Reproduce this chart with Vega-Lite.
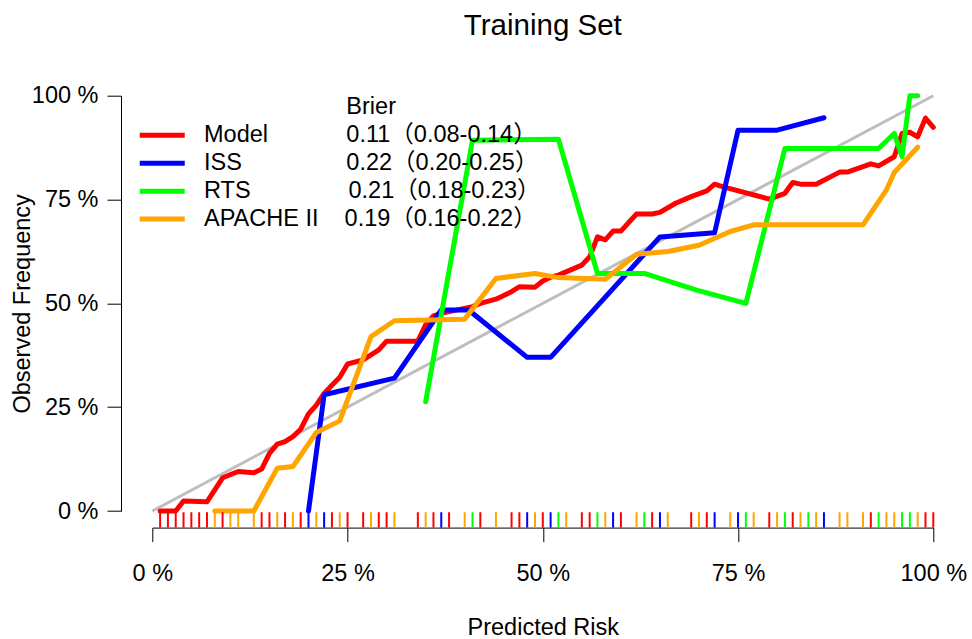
{
  "$schema": "https://vega.github.io/schema/vega-lite/v6.json",
  "width": 781,
  "height": 415.3,
  "autosize": {"type": "none"},
  "padding": {"left": 152.3, "top": 95.7, "right": 38.7, "bottom": 128},
  "background": "white",
  "config": {"view": {"stroke": null}},
  "title": {"text": "Training Set", "fontSize": 29.5, "font": "Liberation Sans", "fontWeight": "normal", "color": "black", "anchor": "middle", "frame": "group", "baseline": "alphabetic", "offset": 19},
  "datasets": {
    "curves": [
      {"series": "Model", "x": 1, "y": 0}, {"series": "Model", "x": 3, "y": 0}, {"series": "Model", "x": 4, "y": 2.4}, {"series": "Model", "x": 7, "y": 2.2},
      {"series": "Model", "x": 9, "y": 8.0}, {"series": "Model", "x": 11, "y": 9.5}, {"series": "Model", "x": 13, "y": 9.2}, {"series": "Model", "x": 14, "y": 10.1},
      {"series": "Model", "x": 15, "y": 13.9}, {"series": "Model", "x": 16, "y": 16.1}, {"series": "Model", "x": 17, "y": 16.7}, {"series": "Model", "x": 18, "y": 17.9},
      {"series": "Model", "x": 19, "y": 19.7}, {"series": "Model", "x": 20, "y": 23.4}, {"series": "Model", "x": 21, "y": 25.5}, {"series": "Model", "x": 22, "y": 28.3},
      {"series": "Model", "x": 23, "y": 30.3}, {"series": "Model", "x": 24, "y": 32.2}, {"series": "Model", "x": 25, "y": 35.4}, {"series": "Model", "x": 27, "y": 36.4},
      {"series": "Model", "x": 29, "y": 38.8}, {"series": "Model", "x": 30, "y": 40.9}, {"series": "Model", "x": 34, "y": 40.9}, {"series": "Model", "x": 35, "y": 44.8},
      {"series": "Model", "x": 36, "y": 47.0}, {"series": "Model", "x": 37, "y": 47.6}, {"series": "Model", "x": 38, "y": 48.0}, {"series": "Model", "x": 41, "y": 49.2},
      {"series": "Model", "x": 42, "y": 50.0}, {"series": "Model", "x": 44, "y": 51.0}, {"series": "Model", "x": 46, "y": 52.8}, {"series": "Model", "x": 47, "y": 54.0},
      {"series": "Model", "x": 49, "y": 53.9}, {"series": "Model", "x": 50, "y": 55.4}, {"series": "Model", "x": 51, "y": 56.3}, {"series": "Model", "x": 52, "y": 56.8},
      {"series": "Model", "x": 55, "y": 59.2}, {"series": "Model", "x": 56, "y": 61.2}, {"series": "Model", "x": 57, "y": 66.0}, {"series": "Model", "x": 58, "y": 65.3},
      {"series": "Model", "x": 59, "y": 67.4}, {"series": "Model", "x": 60, "y": 67.4}, {"series": "Model", "x": 62, "y": 71.5}, {"series": "Model", "x": 64, "y": 71.5},
      {"series": "Model", "x": 65, "y": 71.9}, {"series": "Model", "x": 67, "y": 74.1}, {"series": "Model", "x": 69, "y": 75.7}, {"series": "Model", "x": 71, "y": 77.1},
      {"series": "Model", "x": 72, "y": 78.7}, {"series": "Model", "x": 73, "y": 78.1}, {"series": "Model", "x": 79, "y": 75.1}, {"series": "Model", "x": 81, "y": 76.5},
      {"series": "Model", "x": 82, "y": 79.1}, {"series": "Model", "x": 83, "y": 78.7}, {"series": "Model", "x": 85, "y": 78.7}, {"series": "Model", "x": 88, "y": 81.6},
      {"series": "Model", "x": 89, "y": 81.6}, {"series": "Model", "x": 92, "y": 83.6}, {"series": "Model", "x": 93, "y": 83.1}, {"series": "Model", "x": 95, "y": 85.3},
      {"series": "Model", "x": 96, "y": 90.9}, {"series": "Model", "x": 97, "y": 91.2}, {"series": "Model", "x": 98, "y": 90.1}, {"series": "Model", "x": 99, "y": 94.6},
      {"series": "Model", "x": 100, "y": 92.4},
      {"series": "ISS", "x": 20, "y": 0}, {"series": "ISS", "x": 22, "y": 28}, {"series": "ISS", "x": 31, "y": 32}, {"series": "ISS", "x": 37, "y": 48.4},
      {"series": "ISS", "x": 40.5, "y": 48.4}, {"series": "ISS", "x": 48, "y": 37}, {"series": "ISS", "x": 51, "y": 37}, {"series": "ISS", "x": 65, "y": 66},
      {"series": "ISS", "x": 72, "y": 67}, {"series": "ISS", "x": 75, "y": 91.7}, {"series": "ISS", "x": 80, "y": 91.7}, {"series": "ISS", "x": 86, "y": 94.7},
      {"series": "RTS", "x": 35, "y": 26.3}, {"series": "RTS", "x": 41, "y": 89.3}, {"series": "RTS", "x": 52, "y": 89.5}, {"series": "RTS", "x": 57, "y": 57.2},
      {"series": "RTS", "x": 63, "y": 57.2}, {"series": "RTS", "x": 69.7, "y": 53.2}, {"series": "RTS", "x": 76, "y": 50}, {"series": "RTS", "x": 81, "y": 87.3},
      {"series": "RTS", "x": 93, "y": 87.3}, {"series": "RTS", "x": 95, "y": 90.9}, {"series": "RTS", "x": 96, "y": 85.3}, {"series": "RTS", "x": 97, "y": 100},
      {"series": "RTS", "x": 98, "y": 100},
      {"series": "APACHE II", "x": 8, "y": 0}, {"series": "APACHE II", "x": 13, "y": 0}, {"series": "APACHE II", "x": 16, "y": 10.3}, {"series": "APACHE II", "x": 18, "y": 10.7},
      {"series": "APACHE II", "x": 21, "y": 18.9}, {"series": "APACHE II", "x": 24, "y": 21.7}, {"series": "APACHE II", "x": 28, "y": 42}, {"series": "APACHE II", "x": 31, "y": 45.8},
      {"series": "APACHE II", "x": 40, "y": 46.2}, {"series": "APACHE II", "x": 44, "y": 56}, {"series": "APACHE II", "x": 49, "y": 57.2}, {"series": "APACHE II", "x": 52, "y": 56.2},
      {"series": "APACHE II", "x": 58, "y": 55.8}, {"series": "APACHE II", "x": 62, "y": 61.8}, {"series": "APACHE II", "x": 66, "y": 62.5}, {"series": "APACHE II", "x": 70, "y": 64},
      {"series": "APACHE II", "x": 74, "y": 67.3}, {"series": "APACHE II", "x": 77, "y": 68.9}, {"series": "APACHE II", "x": 91, "y": 68.9}, {"series": "APACHE II", "x": 94, "y": 77.3},
      {"series": "APACHE II", "x": 95, "y": 81.5}, {"series": "APACHE II", "x": 98, "y": 87.6}
    ],
    "rugs": [
      {"series": "Model", "x": 1}, {"series": "Model", "x": 2}, {"series": "Model", "x": 3}, {"series": "Model", "x": 4}, {"series": "Model", "x": 5},
      {"series": "Model", "x": 6}, {"series": "Model", "x": 7}, {"series": "APACHE II", "x": 8}, {"series": "Model", "x": 9}, {"series": "APACHE II", "x": 10},
      {"series": "APACHE II", "x": 11}, {"series": "APACHE II", "x": 13}, {"series": "Model", "x": 14}, {"series": "Model", "x": 15}, {"series": "APACHE II", "x": 16},
      {"series": "Model", "x": 17}, {"series": "APACHE II", "x": 18}, {"series": "Model", "x": 19}, {"series": "ISS", "x": 20}, {"series": "APACHE II", "x": 21},
      {"series": "ISS", "x": 22}, {"series": "Model", "x": 23}, {"series": "APACHE II", "x": 24}, {"series": "Model", "x": 25}, {"series": "Model", "x": 27},
      {"series": "APACHE II", "x": 28}, {"series": "Model", "x": 29}, {"series": "Model", "x": 30}, {"series": "APACHE II", "x": 31}, {"series": "Model", "x": 34},
      {"series": "APACHE II", "x": 35}, {"series": "Model", "x": 36}, {"series": "ISS", "x": 37}, {"series": "Model", "x": 38}, {"series": "APACHE II", "x": 40},
      {"series": "RTS", "x": 41}, {"series": "Model", "x": 42}, {"series": "APACHE II", "x": 44}, {"series": "Model", "x": 46}, {"series": "Model", "x": 47},
      {"series": "ISS", "x": 48}, {"series": "APACHE II", "x": 49}, {"series": "Model", "x": 50}, {"series": "ISS", "x": 51}, {"series": "RTS", "x": 52},
      {"series": "APACHE II", "x": 53}, {"series": "Model", "x": 55}, {"series": "Model", "x": 56}, {"series": "RTS", "x": 57}, {"series": "APACHE II", "x": 58},
      {"series": "ISS", "x": 59}, {"series": "Model", "x": 60}, {"series": "APACHE II", "x": 62}, {"series": "RTS", "x": 63}, {"series": "Model", "x": 64},
      {"series": "ISS", "x": 65}, {"series": "APACHE II", "x": 66}, {"series": "Model", "x": 69}, {"series": "APACHE II", "x": 70}, {"series": "Model", "x": 71},
      {"series": "ISS", "x": 72}, {"series": "APACHE II", "x": 74}, {"series": "ISS", "x": 75}, {"series": "RTS", "x": 76}, {"series": "APACHE II", "x": 77},
      {"series": "Model", "x": 79}, {"series": "APACHE II", "x": 80}, {"series": "RTS", "x": 81}, {"series": "Model", "x": 82}, {"series": "APACHE II", "x": 83},
      {"series": "RTS", "x": 84}, {"series": "APACHE II", "x": 85}, {"series": "ISS", "x": 86}, {"series": "APACHE II", "x": 88}, {"series": "APACHE II", "x": 89},
      {"series": "APACHE II", "x": 91}, {"series": "Model", "x": 92}, {"series": "RTS", "x": 93}, {"series": "APACHE II", "x": 94}, {"series": "APACHE II", "x": 95},
      {"series": "RTS", "x": 96}, {"series": "RTS", "x": 97}, {"series": "APACHE II", "x": 98}, {"series": "Model", "x": 99}, {"series": "Model", "x": 100}
    ]
  },
  "encoding": {
    "x": {"field": "x", "type": "quantitative", "scale": {"domain": [0, 100], "nice": false, "zero": false},
      "axis": {"values": [0, 25, 50, 75, 100], "offset": 16.6, "grid": false, "domainColor": "black", "domainWidth": 1, "tickColor": "black", "tickSize": 14, "tickWidth": 1,
        "labelExpr": "datum.value + ' %'", "labelFont": "Liberation Sans", "labelFontSize": 23.5, "labelColor": "black", "labelPadding": 19.5, "labelFlush": false, "labelOverlap": false, "labelAngle": 0,
        "title": "Predicted Risk", "titleFont": "Liberation Sans", "titleFontSize": 23.5, "titleFontWeight": "normal", "titleColor": "black", "titleBaseline": "alphabetic", "titleY": 107}}
  },
  "layer": [
    {
      "data": {"values": [{"x": 0, "y": 0}, {"x": 100, "y": 100}]},
      "mark": {"type": "line", "color": "#BEBEBE", "strokeWidth": 3},
      "encoding": {
        "y": {"field": "y", "type": "quantitative", "scale": {"domain": [0, 100], "nice": false, "zero": false},
          "axis": {"values": [0, 25, 50, 75, 100], "offset": 31.3, "grid": false, "domainColor": "black", "domainWidth": 1, "tickColor": "black", "tickSize": 14, "tickWidth": 1,
            "labelExpr": "datum.value + ' %'", "labelFont": "Liberation Sans", "labelFontSize": 23.5, "labelColor": "black", "labelPadding": 9, "labelFlush": false, "labelOverlap": false,
            "title": "Observed Frequency", "titleFont": "Liberation Sans", "titleFontSize": 23.5, "titleFontWeight": "normal", "titleColor": "black", "titleBaseline": "alphabetic", "titleX": -91.5}}
      }
    },
    {
      "data": {"name": "curves"},
      "transform": [{"filter": "datum.series == 'Model'"}],
      "mark": {"type": "line", "strokeWidth": 5, "strokeCap": "round", "strokeJoin": "round"},
      "encoding": {
        "y": {"field": "y", "type": "quantitative"},
        "color": {"field": "series", "type": "nominal",
        "scale": {"domain": ["Model", "ISS", "RTS", "APACHE II"], "range": ["#FF0000", "#0000FF", "#00FF00", "#FFA500"]},
        "legend": {"orient": "none", "legendX": -1.8, "legendY": -1.0, "padding": 0,
          "title": "\u200b\u00a0\u00a0\u00a0\u00a0\u00a0\u00a0\u00a0\u00a0\u00a0\u00a0\u00a0\u00a0\u00a0\u00a0\u00a0\u00a0\u00a0\u00a0\u00a0\u00a0\u00a0\u00a0\u00a0\u00a0\u00a0\u00a0\u00a0\u00a0\u00a0\u00a0Brier",
          "titleFont": "Liberation Sans", "titleFontSize": 23.5, "titleFontWeight": "normal", "titleColor": "black", "titlePadding": 5.4, "titleLimit": 1000, "titleAlign": "left",
          "symbolType": "M-2.5,0H2.5", "symbolSize": 324, "symbolStrokeWidth": 5,
          "labelFont": "Liberation Sans, Noto Sans CJK SC", "labelFontSize": 23.5, "labelColor": "black", "labelOffset": 30, "labelLimit": 1000, "rowPadding": 2.9,
          "labelExpr": "datum.label == 'Model' ? 'Model\u00a0\u00a0\u00a0\u00a0\u00a0\u00a0\u00a0\u00a0\u00a0\u00a0\u00a0\u00a00.11（0.08-0.14）' : datum.label == 'ISS' ? 'ISS\u00a0\u00a0\u00a0\u00a0\u00a0\u00a0\u00a0\u00a0\u00a0\u00a0\u00a0\u00a0\u00a0\u00a0\u00a0\u00a00.22（0.20-0.25）' : datum.label == 'RTS' ? 'RTS\u00a0\u00a0\u00a0\u00a0\u00a0\u00a0\u00a0\u00a0\u00a0\u00a0\u00a0\u00a0\u00a0\u00a0\u00a00.21（0.18-0.23）' : 'APACHE II\u00a0\u00a0\u00a0\u00a00.19（0.16-0.22）'"}}
      }
    },
    {
      "data": {"name": "curves"},
      "transform": [{"filter": "datum.series == 'ISS'"}],
      "mark": {"type": "line", "strokeWidth": 5, "strokeCap": "round", "strokeJoin": "round"},
      "encoding": {"y": {"field": "y", "type": "quantitative"}, "color": {"field": "series", "type": "nominal"}}
    },
    {
      "data": {"name": "curves"},
      "transform": [{"filter": "datum.series == 'RTS'"}],
      "mark": {"type": "line", "strokeWidth": 5, "strokeCap": "round", "strokeJoin": "round"},
      "encoding": {"y": {"field": "y", "type": "quantitative"}, "color": {"field": "series", "type": "nominal"}}
    },
    {
      "data": {"name": "curves"},
      "transform": [{"filter": "datum.series == 'APACHE II'"}],
      "mark": {"type": "line", "strokeWidth": 5, "strokeCap": "round", "strokeJoin": "round"},
      "encoding": {"y": {"field": "y", "type": "quantitative"}, "color": {"field": "series", "type": "nominal"}}
    },
    {
      "data": {"name": "rugs"},
      "mark": {"type": "rule", "strokeWidth": 2},
      "encoding": {"y": {"datum": -4, "type": "quantitative"}, "y2": {"datum": -0.3}, "color": {"field": "series", "type": "nominal"}}
    }
  ]
}
